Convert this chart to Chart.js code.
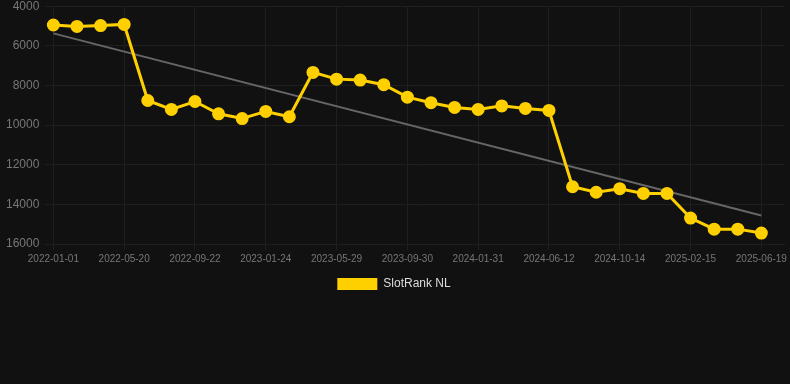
<!DOCTYPE html>
<html>
<head>
<meta charset="utf-8">
<script src="https://cdn.jsdelivr.net/npm/chart.js@4/dist/chart.umd.min.js"></script>
<style>
    html, body { margin: 0; padding: 0; background: #111111; overflow: hidden; }
    .rank-chart { width: 790px; height: 313px; margin-top: -7px; position: relative; }
</style>
</head>
<body>
<div class="rank-chart">
    <canvas id="rankChart"></canvas>
</div>

<script>
const dates = [
    '2022-01-01', '2022-02-16', '2022-04-03', '2022-05-20', '2022-07-01', '2022-08-11',
    '2022-09-22', '2022-11-02', '2022-12-13', '2023-01-24', '2023-03-06', '2023-04-17',
    '2023-05-29', '2023-07-09', '2023-08-19', '2023-09-30', '2023-11-10', '2023-12-21',
    '2024-01-31', '2024-03-16', '2024-04-29', '2024-06-12', '2024-07-23', '2024-09-02',
    '2024-10-14', '2024-11-24', '2025-01-04', '2025-02-15', '2025-03-28', '2025-05-09',
    '2025-06-19', '2025-07-30'
];
const slotRank = [
    4950, 5020, 4980, 4920, 8760, 9210, 8810, 9430, 9670, 9310, 9580,
    7340, 7680, 7730, 7960, 8590, 8870, 9110, 9210, 9030, 9160, 9260,
    13110, 13390, 13210, 13450, 13450, 14690, 15250, 15250, 15450, null
];
const trendStart = 5370;
const trendEnd = 14560;
const yTicks = [4000, 6000, 8000, 10000, 12000, 14000, 16000];

const FONT = 'Arial, "Liberation Sans", Helvetica, sans-serif';

function createRankChart() {
    const ctx = document.getElementById('rankChart').getContext('2d');

    return new Chart(ctx, {
        type: 'line',
        data: {
            labels: dates,
            datasets: [
                {
                    label: 'SlotRank NL',
                    data: slotRank,
                    borderColor: '#ffd000',
                    backgroundColor: '#ffd000',
                    borderWidth: 3,
                    pointRadius: 5,
                    pointHoverRadius: 6,
                    tension: 0
                },
                {
                    label: 'Trend',
                    data: [
                        { x: dates[0], y: trendStart },
                        { x: dates[30], y: trendEnd }
                    ],
                    borderColor: '#666666',
                    backgroundColor: '#666666',
                    borderWidth: 2,
                    pointRadius: 0,
                    tension: 0
                }
            ]
        },
        options: {
            responsive: true,
            maintainAspectRatio: false,
            animation: false,
            layout: { autoPadding: false, padding: { top: 0, right: 2, left: 0, bottom: 6 } },
            scales: {
                x: {
                    grid: { color: '#1f1f1f', tickLength: 6 },
                    border: { color: '#1f1f1f' },
                    ticks: {
                        color: '#777777',
                        font: { family: FONT, size: 10 },
                        maxRotation: 0,
                        autoSkip: false,
                        callback: function(value, index) {
                            return index % 3 === 0 ? dates[index] : null;
                        }
                    }
                },
                y: {
                    reverse: true,
                    min: yTicks[0],
                    max: yTicks[yTicks.length - 1],
                    grid: { color: '#1f1f1f' },
                    border: { color: '#1f1f1f' },
                    afterBuildTicks: function(axis) {
                        axis.ticks = yTicks.map(v => ({ value: v }));
                    },
                    ticks: {
                        color: '#777777',
                        font: { family: FONT, size: 12 },
                        padding: 6,
                        callback: function(value) { return String(value); }
                    }
                }
            },
            plugins: {
                legend: {
                    display: true,
                    position: 'bottom',
                    labels: {
                        color: '#dddddd',
                        font: { family: FONT, size: 12 },
                        boxWidth: 40,
                        boxHeight: 12,
                        generateLabels: function(chart) {
                            const items = Chart.defaults.plugins.legend.labels.generateLabels(chart);
                            return items
                                .filter(item => item.datasetIndex === 0)
                                .map(item => Object.assign(item, { lineWidth: 0 }));
                        }
                    }
                },
                tooltip: { enabled: false }
            }
        }
    });
}

createRankChart();
</script>
</body>
</html>
